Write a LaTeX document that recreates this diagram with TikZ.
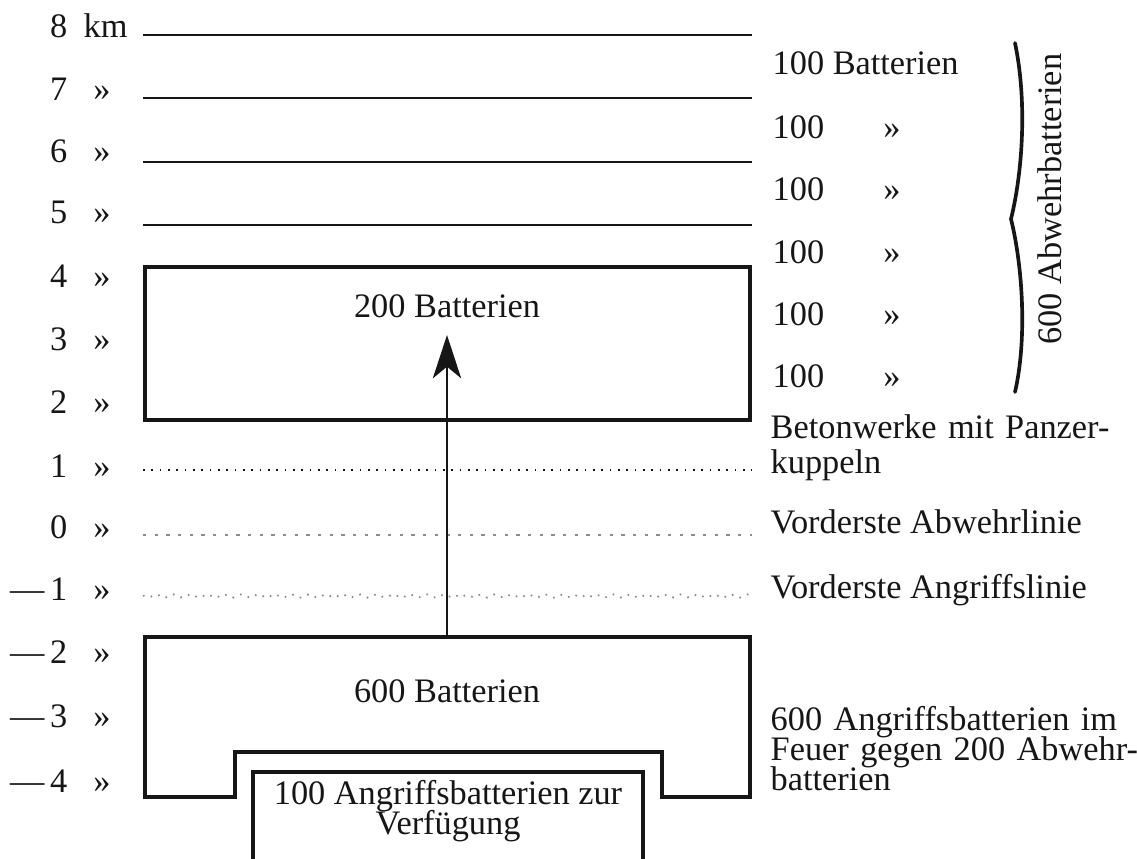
\documentclass[tikz,border=0pt]{standalone}
\usepackage{fontspec}
\setmainfont{Liberation Serif}
\usepackage{tikz}
\usetikzlibrary{arrows.meta,decorations.pathmorphing}
\definecolor{cInk}{HTML}{161616}
\definecolor{cFaint}{HTML}{8C8C8C}
\newcommand{\kmfont}{\fontsize{10.3}{11}\selectfont}
\newcommand{\spread}[2]{\makebox[#1][s]{#2}}
\tikzset{
  kmnum/.style  ={anchor=base east, inner sep=0pt, font=\kmfont, text=cInk},
  kmsep/.style  ={anchor=base, inner sep=0pt, font=\kmfont, text=cInk},
  note/.style   ={anchor=base west, inner sep=0pt, font=\kmfont, text=cInk},
  caption/.style={anchor=base, inner sep=0pt, font=\kmfont, text=cInk},
  block/.style  ={draw=cInk, line width=1pt, line join=miter},
  alt/.style    ={draw=cInk, line width=0.4pt},
  front/.style  ={draw=cInk, line width=0.5pt, dotted},
  arrow/.style  ={-{Stealth[length=13pt,width=8.5pt,inset=3.5pt]}, draw=cInk, line width=0.5pt},
  bracket/.style={draw=cInk, line width=1.1pt, line cap=round},
}

\begin{document}
\begin{tikzpicture}[x=0.3pt, y=-0.3pt]
  \useasboundingbox (0,0) rectangle (1137,859);
  % altitude scale
  \node[kmnum] (k8) at (68,37) {8}; \node[note] (unit) at (83,37) {km};
  \node[kmnum] (k7) at (68,100) {7}; \node[kmsep] (s7) at (102,100) {»};
  \node[kmnum] (k6) at (68,162) {6}; \node[kmsep] (s6) at (102,162) {»};
  \node[kmnum] (k5) at (68,223) {5}; \node[kmsep] (s5) at (102,223) {»};
  \node[kmnum] (k4) at (68,287) {4}; \node[kmsep] (s4) at (102,287) {»};
  \node[kmnum] (k3) at (68,350) {3}; \node[kmsep] (s3) at (102,350) {»};
  \node[kmnum] (k2) at (68,413) {2}; \node[kmsep] (s2) at (102,413) {»};
  \node[kmnum] (k1) at (68,477) {1}; \node[kmsep] (s1) at (102,477) {»};
  \node[kmnum] (k0) at (68,538) {0}; \node[kmsep] (s0) at (102,538) {»};
  \node[kmnum] (km1) at (68,600) {—\,1}; \node[kmsep] (sm1) at (102,600) {»};
  \node[kmnum] (km2) at (68,663) {—\,2}; \node[kmsep] (sm2) at (102,663) {»};
  \node[kmnum] (km3) at (68,727) {—\,3}; \node[kmsep] (sm3) at (102,727) {»};
  \node[kmnum] (km4) at (68,792) {—\,4}; \node[kmsep] (sm4) at (102,792) {»};
  % height lines
  \draw[alt] (143,35) -- (752,35); \draw[alt] (143,98) -- (752,98);
  \draw[alt] (143,162) -- (752,162); \draw[alt] (143,225) -- (752,225);
  \draw[front] (143,470) -- (752,470);
  \draw[front, draw=cFaint, dash pattern=on 1pt off 2.5pt] (143,535) -- (752,535);
  \draw[front, draw=cFaint, decorate, decoration={snake, amplitude=0.5pt, segment length=4pt}] (143,596) -- (752,596);
  % defence and attack blocks
  \draw[block] (145,267) rectangle (750,420);
  \node[caption] (t200) at (447,317) {200 Batterien};
  \draw[block] (145,637) -- (750,637) -- (750,797) -- (662,797) -- (662,752)
    -- (235,752) -- (235,797) -- (145,797) -- cycle;
  \node[caption] (t600) at (447,702) {600 Batterien};
  \draw[block] (253,862) -- (253,772) -- (643,772) -- (643,862);
  \node[caption, align=center, font={\fontsize{10.3}{9}\selectfont\lineskiplimit=-20pt}] (reserve) at (448,834)
    {100 Angriffsbatterien zur\\Verfügung};
  \coordinate (src) at (447,637); \coordinate (tip) at (447,335);
  \draw[arrow] (src) -- (tip);
  % right column
  \node[note] (r1) at (772,75) {100 Batterien};
  \node[note] (r2) at (772,138) {100}; \node[kmsep] (q2) at (892,138) {»};
  \node[note] (r3) at (772,200) {100}; \node[kmsep] (q3) at (892,200) {»};
  \node[note] (r4) at (772,263) {100}; \node[kmsep] (q4) at (892,263) {»};
  \node[note] (r5) at (772,325) {100}; \node[kmsep] (q5) at (892,325) {»};
  \node[note] (r6) at (772,387) {100}; \node[kmsep] (q6) at (892,387) {»};
  \draw[bracket] (1015,43) .. controls (1027,100) and (1023,170) .. (1011,219)
    .. controls (1023,268) and (1027,340) .. (1015,392);
  \node[kmsep, rotate=90, anchor=center] (sum) at (1050,199) {600 Abwehrbatterien};
  \node[note, text width=105pt, align=left, font={\fontsize{10.3}{10.5}\selectfont}] (beton) at (770,438)
    {\spread{105pt}{Betonwerke mit Panzer-}\\kuppeln};
  \node[note] (lineA) at (770,533) {Vorderste Abwehrlinie};
  \node[note] (lineB) at (770,598) {Vorderste Angriffslinie};
  \node[note, text width=109pt, align=left, font={\fontsize{10.3}{9}\selectfont\lineskiplimit=-20pt}] (duel) at (770,730)
    {\spread{109pt}{600 Angriffsbatterien im}\\\spread{109pt}{Feuer gegen 200 Abwehr-}\\batterien};
\end{tikzpicture}
\end{document}
